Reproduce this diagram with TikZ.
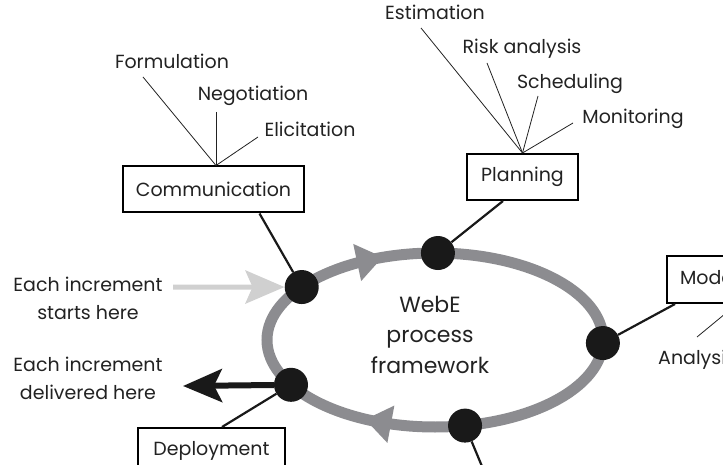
\documentclass[tikz,border=0pt]{standalone}
\usepackage{fontspec}
\setmainfont{Poppins}
\usetikzlibrary{arrows.meta,calc}
\definecolor{ringgray}{HTML}{8C8C90}
\definecolor{ingray}{HTML}{D0D0D0}
\definecolor{ink}{HTML}{222222}
\newcommand\lblfont{\fontsize{19}{27}\selectfont}
\begin{document}
\begin{tikzpicture}[x=1pt,y=-1pt,
  lbl/.style={anchor=base,inner sep=0pt,text=ink,font=\lblfont},
  box/.style={draw=black,line width=2pt,fill=white,minimum height=46pt,inner sep=0pt,text=ink,font=\lblfont},
  dot/.style={circle,fill=black!90,minimum size=34pt,inner sep=0pt},
  thinlink/.style={draw=ink,line width=0.8pt},
  link/.style={draw=black!90,line width=2.2pt},
  ring/.style={draw=ringgray,line width=11pt},
  ringhead/.style={fill=ringgray},
  inarr/.style={draw=ingray,line width=5pt,-{Stealth[length=39pt,width=33pt,inset=7pt,fill=ingray]}},
  outarr/.style={draw=black!90,line width=6pt,-{Stealth[length=39pt,width=33pt,inset=8pt]}},
]
\useasboundingbox (0,0) rectangle (723,465);
\clip (0,0) rectangle (723,465);
\coordinate (ctr) at (435,340);
% cycle
\draw[ring] (ctr) ellipse [x radius=168pt,y radius=87pt];
\begin{scope}[shift={($(ctr)+(112.8:168pt and 87pt)$)},rotate=12]
  \fill[ringhead] (13,0) -- (-13,19) -- (-13,-19) -- cycle;
\end{scope}
\begin{scope}[shift={($(ctr)+(250.2:168pt and 87pt)$)},rotate=169.4]
  \fill[ringhead] (13,0) -- (-13,19) -- (-13,-19) -- cycle;
\end{scope}
\node[lbl,align=center,font=\fontsize{22}{30.5}\selectfont] (webe) at (430,373) {WebE\\process\\framework};
% boxes
\node[box,minimum width=181pt] (comm) at (213.5,189.5) {Communication};
\node[box,minimum width=111pt] (plan) at (522.5,177) {Planning};
\node[box,minimum width=147pt] (deploy) at (211.5,451) {Deployment};
\node[box,anchor=north west,minimum height=47pt,inner xsep=13pt] (model) at (666,255) {Modeling};
% dots
\node[dot] (dcomm) at ($(ctr)+(142.5:168pt and 87pt)$) {};
\node[dot] (dplan) at ($(ctr)+(89:168pt and 87pt)$) {};
\node[dot] (dmodel) at ($(ctr)+(-2:168pt and 87pt)$) {};
\node[dot] (dcons) at ($(ctr)+(-79.7:168pt and 87pt)$) {};
\node[dot] (ddeploy) at ($(ctr)+(211:168pt and 87pt)$) {};
% links
\draw[link] ($(comm.south)+(46,0)$) -- (dcomm);
\draw[link] ($(plan.south)+(-19.5,0)$) -- (dplan);
\draw[link] ($(model.south west)+(9,0)$) -- (dmodel);
\draw[link] ($(deploy.north)+(10.5,0)$) -- (ddeploy);
\coordinate (consend) at (496,500);
\draw[link] (dcons) -- (consend);
% sub labels communication
\node[lbl] (form) at (172,69) {Formulation};
\node[lbl] (nego) at (253,101) {Negotiation};
\node[lbl] (elic) at (310,136.5) {Elicitation};
\coordinate (formend) at (143,77);
\coordinate (negoend) at (216,112);
\coordinate (elicend) at (258,137);
\coordinate (commtop) at ($(comm.north)+(2.5,0)$);
\draw[thinlink] (formend) -- (commtop);
\draw[thinlink] (negoend) -- (commtop);
\draw[thinlink] (elicend) -- (commtop);
% sub labels planning
\node[lbl] (esti) at (435,19.3) {Estimation};
\node[lbl] (risk) at (522,53.3) {Risk analysis};
\node[lbl] (sched) at (570,88.3) {Scheduling};
\node[lbl] (moni) at (633,124) {Monitoring};
\coordinate (estiend) at (421,28);
\coordinate (riskend) at (487,63);
\coordinate (schedend) at (538,96);
\coordinate (moniend) at (573,123);
\draw[thinlink] (estiend) -- (plan.north);
\draw[thinlink] (riskend) -- (plan.north);
\draw[thinlink] (schedend) -- (plan.north);
\draw[thinlink] (moniend) -- (plan.north);
% sub label modeling
\node[lbl,anchor=base west] (anal) at (658,364) {Analysis};
\coordinate (analend) at (697,337);
\draw[thinlink] (analend) -- ($(model.south west)+(71,0)$);
% increment arrows
\coordinate (instart) at (173,287);
\draw[inarr] (instart) -- (dcomm);
\coordinate (outend) at (183,386);
\draw[outarr] (ddeploy) -- (outend);
\node[lbl,align=center,font=\fontsize{19}{27.5}\selectfont] (starts) at (88,319) {Each increment\\starts here};
\node[lbl,align=center,font=\fontsize{19}{27.5}\selectfont] (deliv) at (88,399) {Each increment\\delivered here};
\end{tikzpicture}
\end{document}
